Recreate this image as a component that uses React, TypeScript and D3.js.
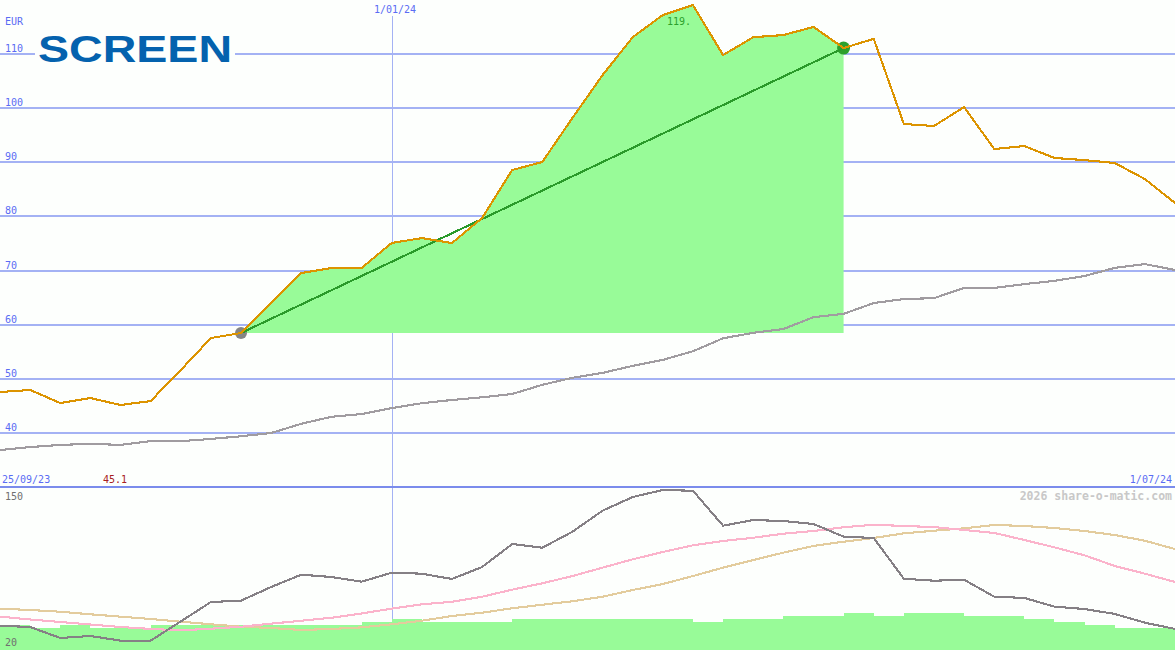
import { useEffect, useRef } from 'react';
import * as d3 from 'd3';

// weekly samples
const priceValues = [47.57, 47.94, 45.54, 46.46, 45.17, 45.9, 51.63, 57.54, 58.47, 64.0, 69.55, 70.47, 70.47, 75.09, 76.0, 75.09, 79.7, 88.57, 90.05, 98.18, 106.1, 113.1, 117.2, 119.05, 109.8, 113.1, 113.5, 115.0, 111.1, 112.8, 97.07, 96.7, 100.2, 92.45, 93.0, 90.8, 90.4, 89.87, 86.9, 82.48];
const benchmarkValues = [36.86, 37.4, 37.8, 38, 37.8, 38.5, 38.5, 38.9, 39.4, 40, 41.7, 43, 43.5, 44.6, 45.5, 46.1, 46.6, 47.2, 48.9, 50.2, 51.1, 52.4, 53.5, 55.1, 57.5, 58.5, 59.2, 61.4, 62, 64, 64.75, 64.9, 66.8, 66.8, 67.5, 68.1, 69, 70.5, 71.2, 70.1];
const strengthValues = [39.7, 38.7, 29.75, 31.4, 27.6, 27.6, 43.2, 59, 60.1, 71.2, 81.2, 79.3, 75.5, 82.8, 82, 77.7, 87.4, 106.1, 103.1, 116.1, 133.2, 144.3, 150, 149.4, 121, 125.6, 124.8, 122.4, 112.1, 111, 77.9, 76.3, 77.1, 63.3, 62.3, 55.2, 53.3, 49.3, 42.2, 37.1];
const fastAvgValues = [47.1, 44.8, 42.75, 40.7, 38.7, 37.1, 36, 37.3, 38.9, 41.4, 43.8, 46.2, 49.7, 53.6, 57.1, 59.2, 63.3, 69, 74.2, 80.1, 86.9, 93.7, 99.6, 105.1, 108.6, 111.2, 114.5, 116.7, 119.7, 121.8, 120.75, 119.9, 117.5, 115.1, 109.4, 103.4, 96.9, 88.25, 82, 75.25];
const slowAvgValues = [53.6, 52.5, 51.1, 49, 47.1, 45.2, 43, 40.9, 38.9, 37.9, 36.25, 37.1, 38.4, 40.9, 43.8, 47.6, 50.3, 53.9, 56.8, 59.6, 63.3, 68.75, 73.6, 80.1, 86.9, 93.1, 99.1, 104.5, 108, 111, 114.8, 116.9, 118.9, 121.6, 120.75, 119.1, 116.7, 113.4, 108.8, 102];
const barValues = [40.3, 37.9, 40.3, 37.9, 37.9, 40.3, 40.3, 40.3, 40.3, 40.3, 40.3, 40.3, 42.75, 45.2, 42.75, 42.75, 42.75, 45.2, 45.2, 45.2, 45.2, 45.2, 45.2, 42.75, 45.2, 45.2, 47.6, 47.6, 50.1, 47.6, 50.1, 50.1, 47.6, 47.6, 45.2, 42.75, 40.3, 37.9, 37.9];
const priceTicks = [110, 100, 90, 80, 70, 60, 50, 40];
const newYearIndex = 13;
const signalStart = 8;
const signalEnd = 28;
const peakLabel = '119.';
const lowLabel = '45.1';

const mono = '"DejaVu Sans Mono", monospace';

const App = () => {
    const chartRef = useRef<SVGSVGElement>(null);

    useEffect(() => {
        const width = 1175;
        const height = 650;
        const svg = d3.select(chartRef.current);
        svg.selectAll('*').remove();

        const x = d3.scaleLinear().domain([0, priceValues.length - 1]).range([0, width]);
        const y = d3.scaleLinear().domain([110, 40]).range([54, 433]);
        const y2 = d3.scaleLinear().domain([20, 150]).range([650, 490]);

        const addText = (s: string, tx: number, ty: number, fill: string, anchor = 'start', size = 10) =>
            svg.append('text').attr('x', tx).attr('y', ty).attr('fill', fill)
                .attr('text-anchor', anchor).attr('font-family', mono).attr('font-size', size).text(s);

        svg.append('rect').attr('width', width).attr('height', height).attr('fill', '#fdfffd');

        // grid
        svg.selectAll('.grid').data(priceTicks).enter().append('line')
            .attr('x1', 0).attr('x2', width)
            .attr('y1', (d) => y(d)).attr('y2', (d) => y(d))
            .attr('stroke', '#a4b2f4').attr('stroke-width', 2).attr('shape-rendering', 'crispEdges');
        svg.append('line')
            .attr('x1', x(newYearIndex) + 0.83).attr('x2', x(newYearIndex) + 0.83).attr('y1', 16).attr('y2', height)
            .attr('stroke', '#a4b2f4').attr('stroke-width', 1).attr('shape-rendering', 'crispEdges');
        svg.append('line')
            .attr('x1', 0).attr('x2', width).attr('y1', 487).attr('y2', 487)
            .attr('stroke', '#7b8cec').attr('stroke-width', 2).attr('shape-rendering', 'crispEdges');

        // tick labels
        priceTicks.forEach((t) => addText(String(t), 5, y(t) - 2, '#5a6cf4'));
        addText('EUR', 5, 25, '#5a6cf4');
        addText('1/01/24', x(newYearIndex) + 3.3, 13, '#5a6cf4', 'middle');
        addText('25/09/23', 2, 483, '#5a6cf4');
        addText('1/07/24', 1172, 483, '#5a6cf4', 'end');
        addText(lowLabel, 103, 483, '#a82020');
        addText('150', 5, 500, '#707070');
        addText('2026 share-o-matic.com', 1172, 500, '#c8c8c8', 'end', 11.5).attr('font-weight', 'bold');

        // logo
        svg.append('rect').attr('x', 35).attr('y', 34).attr('width', 200).attr('height', 30).attr('fill', '#fdfffd');
        svg.append('text').attr('x', 38).attr('y', 62)
            .attr('font-family', '"Liberation Sans", sans-serif').attr('font-weight', 'bold').attr('font-size', 36)
            .attr('textLength', 194).attr('lengthAdjust', 'spacingAndGlyphs')
            .attr('fill', '#0462ae').text('SCREEN');

        // signal area
        const signal = d3.range(signalStart, signalEnd + 1);
        const areaPath = d3.area<number>()
            .x((i) => x(i))
            .y0(y(priceValues[signalStart]))
            .y1((i) => y(priceValues[i]))(signal) as string;
        svg.append('path').attr('d', areaPath).attr('fill', '#98fb98');
        addText(peakLabel, 667, 25, '#2ca02c');

        // lower panel
        svg.selectAll('.bar').data(barValues).enter().append('rect')
            .attr('x', (_, i) => x(i))
            .attr('y', (d) => y2(d))
            .attr('width', (_, i) => x(i + 1) - x(i))
            .attr('height', (d) => height - y2(d))
            .attr('fill', '#98fb98').attr('shape-rendering', 'crispEdges');
        addText('20', 5, 646, '#707070');

        const drawLine = (values: number[], scale: d3.ScaleLinear<number, number>, color: string, w: number) =>
            svg.append('path')
                .attr('d', d3.line<number>().x((_, i) => x(i)).y((d) => scale(d))(values) as string)
                .attr('fill', 'none').attr('stroke', color).attr('stroke-width', w)
                .attr('stroke-linejoin', 'round').attr('shape-rendering', 'crispEdges');

        drawLine(slowAvgValues, y2, '#e3cc9d', 2.1);
        drawLine(fastAvgValues, y2, '#fbb3cb', 2.1);
        drawLine(strengthValues, y2, '#858085', 2.1);
        drawLine(benchmarkValues, y, '#a09ca0', 2.1);

        // signal markers
        svg.append('circle').attr('cx', x(signalStart)).attr('cy', y(priceValues[signalStart])).attr('r', 6).attr('fill', '#858585');
        svg.append('circle').attr('cx', x(signalEnd)).attr('cy', y(priceValues[signalEnd])).attr('r', 6.5).attr('fill', '#2ca02c');
        svg.append('line')
            .attr('x1', x(signalStart)).attr('y1', y(priceValues[signalStart]))
            .attr('x2', x(signalEnd)).attr('y2', y(priceValues[signalEnd]))
            .attr('stroke', '#2a9a2a').attr('stroke-width', 2.1).attr('shape-rendering', 'crispEdges');

        drawLine(priceValues, y, '#dc9400', 2.1);
    }, []);

    return <svg ref={chartRef} width={1175} height={650} style={{ position: 'absolute', left: 0, top: 0, display: 'block' }} />;
};

export default App;
